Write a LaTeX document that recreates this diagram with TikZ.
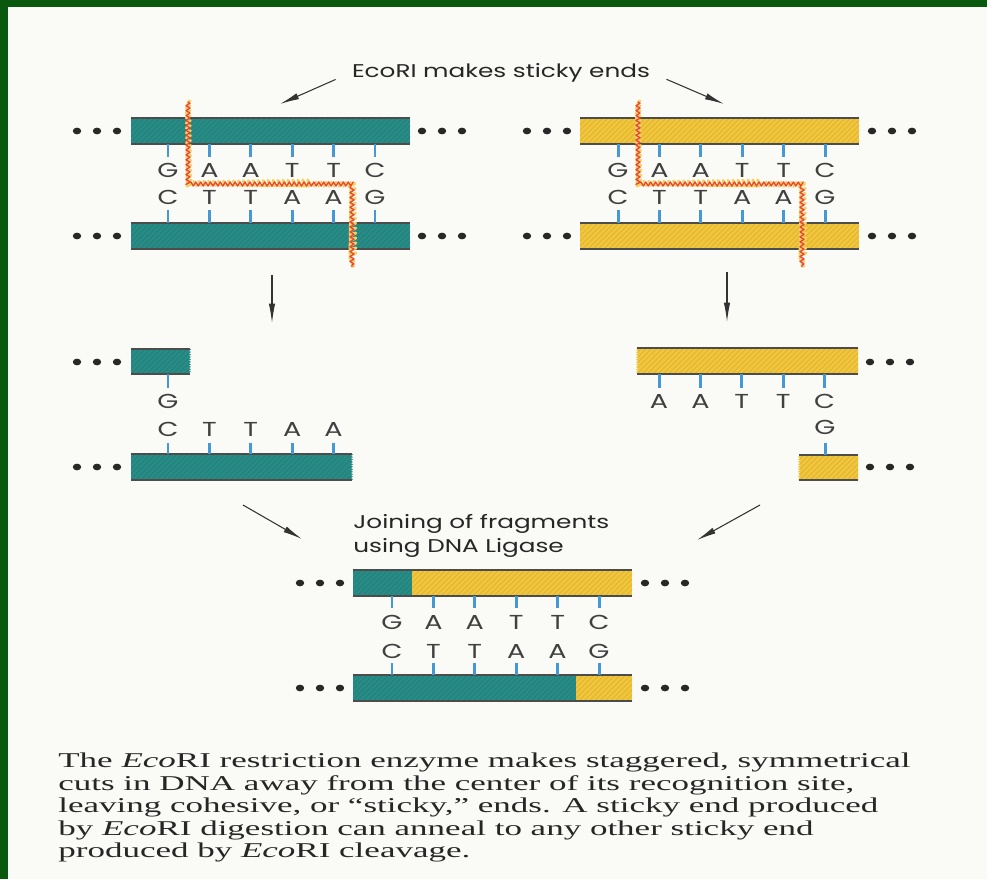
\documentclass[tikz,border=0pt]{standalone}
\usepackage{fontspec}
\setmainfont{Liberation Serif}[FakeStretch=1.66]
\newfontfamily\labelfont{Poppins}[FakeStretch=1.34]
\usetikzlibrary{arrows.meta, decorations.pathmorphing, patterns}

\definecolor{framegreen}{RGB}{10,88,14}
\definecolor{pagewhite}{RGB}{250,250,247}
\definecolor{dnateal}{RGB}{40,140,134}
\definecolor{dnayellow}{RGB}{242,198,58}
\definecolor{bondblue}{RGB}{70,152,212}
\definecolor{cutred}{RGB}{232,68,58}
\definecolor{dotgrey}{RGB}{40,40,40}

\tikzset{
	strandedge/.style={black!70, line width=0.7pt},
	basebond/.style={bondblue, line width=1.7pt},
	baseletter/.style={font=\labelfont\fontsize{11.5}{11.5}\selectfont, text=black!75, inner sep=0pt, anchor=base},
	labeltext/.style={font=\labelfont\fontsize{10.5}{13.5}\selectfont, text=black!85, inner sep=0pt},
	cutline/.style={cutred, line width=0.7pt, line join=round, decorate, decoration={zigzag, segment length=2.8pt, amplitude=1.2pt},
		preaction={draw, dnayellow!80, line width=1.5pt, line join=round, decorate, decoration={zigzag, segment length=2.8pt, amplitude=1.2pt}}},
	raggedend/.style={decoration={zigzag, segment length=1.4pt, amplitude=0.6pt}},
	pointer/.style={black!80, line width=0.6pt, -{Latex[length=11pt, width=3.6pt]}},
	hatch/.style={pattern=north east lines, pattern color=#1!90!black},
}

% three dots standing for the rest of a strand
\newcommand{\dnadots}[2]{%
	\foreach \k in {0,1,2} \fill[dotgrey] ({#1+20*\k},#2) ellipse (2.4pt and 1.9pt);}
% one backbone: colour, left, top, right, bottom
\newcommand{\dnastrand}[5]{%
	\fill[#1] (#2,#3) rectangle (#4,#5);
	\fill[hatch=#1] (#2,#3) rectangle (#4,#5);
	\draw[strandedge] (#2,#3) -- (#4,#3) (#2,#5) -- (#4,#5);}

\begin{document}
\begin{tikzpicture}[x=0.02cm, y=-0.02cm]
	\useasboundingbox (0,0) rectangle (987,879);
	\fill[pagewhite] (0,0) rectangle (987,879);			%page
	\fill[framegreen] (0,0) rectangle (987,7);			%top band
	\fill[framegreen] (0,0) rectangle (8,879);			%left band

	\node[labeltext, anchor=base] (cuttitle) at (501,77) {EcoRI makes sticky ends};
	\coordinate (cuttipL) at (280,104);
	\coordinate (cuttipR) at (724,104);
	\draw[pointer, shorten <=10pt] (cuttitle.west) -- (cuttipL);
	\draw[pointer, shorten <=10pt] (cuttitle.east) -- (cuttipR);

	%--- teal duplex
	\dnastrand{dnateal}{131}{118}{410}{144}
	\dnastrand{dnateal}{131}{223}{410}{249}
	\foreach \i in {0,...,5} {
		\draw[basebond] ({168+41.4*\i},144) -- ({168+41.4*\i},157);
		\draw[basebond] ({168+41.4*\i},210) -- ({168+41.4*\i},223);
	}
	\foreach \b [count=\i from 0] in {G,A,A,T,T,C}
		\node[baseletter] (tealtop\i) at ({168+41.4*\i},177) {\b};
	\foreach \b [count=\i from 0] in {C,T,T,A,A,G}
		\node[baseletter] (tealbot\i) at ({168+41.4*\i},204) {\b};
	\dnadots{77}{131} \dnadots{422}{131}
	\dnadots{77}{236} \dnadots{422}{236}
	\draw[cutline] (188,102) -- (188,184) -- (352,184) -- (352,267);	%staggered cut

	%--- yellow duplex
	\dnastrand{dnayellow}{580}{118}{859}{144}
	\dnastrand{dnayellow}{580}{223}{859}{249}
	\foreach \i in {0,...,5} {
		\draw[basebond] ({618+41.4*\i},144) -- ({618+41.4*\i},157);
		\draw[basebond] ({618+41.4*\i},210) -- ({618+41.4*\i},223);
	}
	\foreach \b [count=\i from 0] in {G,A,A,T,T,C}
		\node[baseletter] (yeltop\i) at ({618+41.4*\i},177) {\b};
	\foreach \b [count=\i from 0] in {C,T,T,A,A,G}
		\node[baseletter] (yelbot\i) at ({618+41.4*\i},204) {\b};
	\dnadots{527}{131} \dnadots{872}{131}
	\dnadots{527}{236} \dnadots{872}{236}
	\draw[cutline] (638,102) -- (638,184) -- (802,184) -- (802,267);	%staggered cut

	\coordinate (downL1) at (272,275);
	\coordinate (downL2) at (272,323);
	\coordinate (downR1) at (727,272);
	\coordinate (downR2) at (727,322);
	\draw[pointer] (downL1) -- (downL2);
	\draw[pointer] (downR1) -- (downR2);

	%--- teal fragment
	\fill[dnateal] (131,349) -- (190,349) decorate[raggedend]{-- (190,374)} -- (131,374) -- cycle;
	\fill[hatch=dnateal] (131,349) rectangle (189,374);
	\draw[strandedge] (131,349) -- (190,349) (131,374) -- (190,374);
	\fill[dnateal] (131,454) -- (352,454) decorate[raggedend]{-- (352,480)} -- (131,480) -- cycle;
	\fill[hatch=dnateal] (131,454) rectangle (351,480);
	\draw[strandedge] (131,454) -- (352,454) (131,480) -- (352,480);
	\draw[basebond] (168,374) -- (168,388);
	\node[baseletter] (tealend) at (168,408) {G};
	\foreach \b [count=\i from 0] in {C,T,T,A,A} {
		\draw[basebond] ({168+41.4*\i},443) -- ({168+41.4*\i},454);
		\node[baseletter] (tealover\i) at ({168+41.4*\i},436) {\b};
	}
	\dnadots{77}{362} \dnadots{77}{467}

	%--- yellow fragment
	\fill[dnayellow] (858,348) -- (637,348) decorate[raggedend]{-- (637,374)} -- (858,374) -- cycle;
	\fill[hatch=dnayellow] (638,348) rectangle (858,374);
	\draw[strandedge] (637,348) -- (858,348) (637,374) -- (858,374);
	\fill[dnayellow] (858,455) -- (799,455) decorate[raggedend]{-- (799,480)} -- (858,480) -- cycle;
	\fill[hatch=dnayellow] (800,455) rectangle (858,480);
	\draw[strandedge] (799,455) -- (858,455) (799,480) -- (858,480);
	\foreach \b [count=\i from 0] in {A,A,T,T,C} {
		\draw[basebond] ({659+41.4*\i},374) -- ({659+41.4*\i},388);
		\node[baseletter] (yelover\i) at ({659+41.4*\i},408) {\b};
	}
	\draw[basebond] (825,443) -- (825,455);
	\node[baseletter] (yelend) at (825,434) {G};
	\dnadots{870}{362} \dnadots{870}{467}

	%--- ligation
	\node[labeltext, align=left, anchor=north west] (ligation) at (353,514) {Joining of fragments\\using DNA Ligase};
	\coordinate (joinL1) at (243,505);
	\coordinate (joinL2) at (302,539);
	\coordinate (joinR1) at (760,505);
	\coordinate (joinR2) at (697,540);
	\draw[pointer] (joinL1) -- (joinL2);
	\draw[pointer] (joinR1) -- (joinR2);

	%--- recombinant duplex
	\fill[dnateal] (353,570) rectangle (412,596);
	\fill[hatch=dnateal] (353,570) rectangle (412,596);
	\fill[dnayellow] (412,570) rectangle (632,596);
	\fill[hatch=dnayellow] (412,570) rectangle (632,596);
	\draw[strandedge] (353,570) -- (632,570) (353,596) -- (632,596);
	\fill[dnateal] (353,675) rectangle (576,701);
	\fill[hatch=dnateal] (353,675) rectangle (576,701);
	\fill[dnayellow] (576,675) rectangle (632,701);
	\fill[hatch=dnayellow] (576,675) rectangle (632,701);
	\draw[strandedge] (353,675) -- (632,675) (353,701) -- (632,701);
	\foreach \i in {0,...,5} {
		\draw[basebond] ({392+41.4*\i},596) -- ({392+41.4*\i},608);
		\draw[basebond] ({392+41.4*\i},663) -- ({392+41.4*\i},675);
	}
	\foreach \b [count=\i from 0] in {G,A,A,T,T,C}
		\node[baseletter] (jointop\i) at ({392+41.4*\i},629) {\b};
	\foreach \b [count=\i from 0] in {C,T,T,A,A,G}
		\node[baseletter] (joinbot\i) at ({392+41.4*\i},658) {\b};
	\dnadots{300}{583} \dnadots{645}{583}
	\dnadots{300}{688} \dnadots{645}{688}

	\node[anchor=north west, align=left, inner sep=0pt, text=black!85,
		font=\fontsize{12}{12.75}\selectfont] (caption) at (58,753)
		{The \textit{Eco}RI restriction enzyme makes staggered, symmetrical\\
		cuts in DNA away from the center of its recognition site,\\
		leaving cohesive, or “sticky,” ends. A sticky end produced\\
		by \textit{Eco}RI digestion can anneal to any other sticky end\\
		produced by \textit{Eco}RI cleavage.};
\end{tikzpicture}
\end{document}
